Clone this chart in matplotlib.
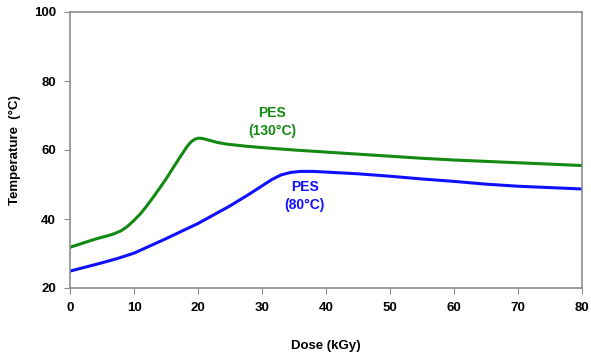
import matplotlib
matplotlib.use("Agg")
import matplotlib.pyplot as plt

plt.rcParams["font.family"] = ["Liberation Sans", "DejaVu Sans"]
plt.rcParams["font.weight"] = "bold"

# PES (130°C)
dose_130 = [0, 2, 4, 6, 7, 8, 9, 10, 11, 12, 13, 14, 15, 16, 17, 18, 18.5, 19, 19.5, 20, 20.5, 21, 22, 23, 24.5,
            27.5, 30, 35, 40, 45, 50, 55, 60, 65, 70, 75, 80]
temp_130 = [31.8, 33.0, 34.2, 35.2, 35.8, 36.6, 37.9, 39.6, 41.5, 43.8, 46.3, 48.9, 51.6, 54.5, 57.4, 60.2, 61.5, 62.5, 63.1, 63.4, 63.4, 63.2, 62.7, 62.2, 61.7,
            61.1, 60.7, 60.0, 59.4, 58.8, 58.2, 57.6, 57.1, 56.7, 56.3, 55.9, 55.5]

# PES (80°C)
dose_80 = [0, 2.5, 5, 7.5, 10, 15, 20, 25, 28, 30, 31.5, 33, 34.5, 36, 38, 41, 45, 50, 55, 60, 65, 70, 75, 80]
temp_80 = [24.9, 26.1, 27.3, 28.6, 30.1, 34.3, 38.7, 43.8, 47.2, 49.6, 51.4, 52.8, 53.5, 53.8, 53.8, 53.5, 53.1, 52.4, 51.6, 50.9, 50.1, 49.5, 49.1, 48.7]

fig = plt.figure(figsize=(5.91, 3.54), dpi=100)
ax = fig.add_axes([70 / 591, 1 - 288 / 354, 512 / 591, 276 / 354])

ax.plot(dose_130, temp_130, color="#138a13", lw=2.2, solid_joinstyle="round")
ax.plot(dose_80, temp_80, color="#1010ff", lw=2.2, solid_joinstyle="round")

ax.set_xlim(0, 80)
ax.set_ylim(20, 100)
ax.set_xticks(range(0, 81, 10))
ax.set_yticks(range(20, 101, 20))
for s in ax.spines.values():
    s.set_color("#8c8c8c")
    s.set_linewidth(1.2)
ax.tick_params(direction="out", length=4, color="#8c8c8c", labelsize=9.5, pad=6)

ax.set_xlabel("Dose (kGy)", fontsize=9.5, fontweight="bold", labelpad=19)
ax.set_ylabel("Temperature  (\u00b0C)", fontsize=9.5, fontweight="bold", labelpad=9)

ax.text(31.6, 68.1, "PES\n(130\u00b0C)", color="#138a13", fontsize=10, fontweight="bold",
        ha="center", va="center", linespacing=1.35)
ax.text(36.7, 46.7, "PES\n(80\u00b0C)", color="#1010ff", fontsize=10, fontweight="bold",
        ha="center", va="center", linespacing=1.35)

fig.savefig("out.png", dpi=100)
